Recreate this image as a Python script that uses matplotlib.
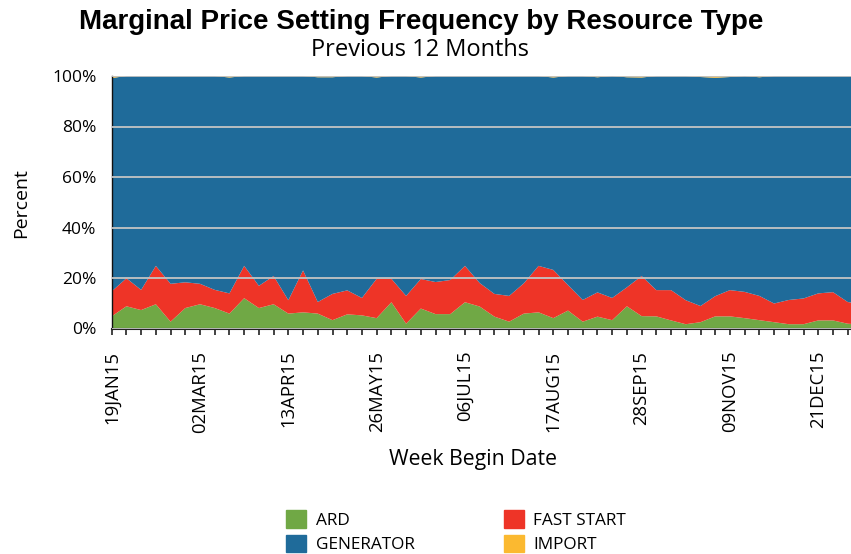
import matplotlib
matplotlib.use("Agg")
import matplotlib.pyplot as plt
import matplotlib.patches as mpatches
import numpy as np

# ---- data (percent) ----
n_weeks = 52
tick_labels = ["19JAN15", "02MAR15", "13APR15", "26MAY15", "06JUL15",
               "17AUG15", "28SEP15", "09NOV15", "21DEC15"]

ard = [4.8, 8.8, 7.3, 9.6, 2.7, 8.1, 9.6, 8.1, 5.9, 12.0,
       8.1, 9.6, 5.9, 6.4, 5.9, 3.3, 5.6, 5.2, 4.1, 10.4,
       1.9, 7.9, 5.7, 5.7, 10.4, 8.7, 4.7, 2.7, 5.9, 6.4,
       4.1, 7.1, 2.7, 4.7, 3.3, 8.8, 4.9, 4.8, 3.2, 1.7,
       2.5, 4.8, 4.8, 4.1, 3.3, 2.5, 1.7, 1.7, 3.2, 3.2,
       1.9, 1.5]
ard_plus_fast = [14.7, 19.9, 15.3, 24.8, 17.7, 18.3, 17.7, 15.3, 13.9, 24.8,
                 16.9, 20.8, 11.2, 23.0, 10.5, 13.7, 15.1, 12.1, 19.7, 19.7,
                 12.9, 19.6, 18.4, 19.2, 24.8, 18.0, 13.7, 12.9, 17.9, 24.8,
                 23.2, 17.2, 11.3, 14.3, 12.1, 16.3, 20.8, 15.2, 15.2, 11.2,
                 8.9, 12.8, 15.2, 14.5, 12.9, 9.9, 11.3, 11.9, 13.9, 14.4,
                 10.5, 9.5]
fast_start = [round(t - a, 1) for t, a in zip(ard_plus_fast, ard)]
imports = [0.8, 0, 0, 0, 0, 0, 0, 0, 0.6, 0,
           0, 0, 0, 0, 0.5, 0.5, 0, 0, 0.6, 0,
           0, 0.6, 0, 0, 0, 0, 0, 0, 0, 0,
           0.6, 0, 0, 0.5, 0, 0.5, 0.6, 0, 0, 0,
           0.4, 0.7, 0.4, 0, 0.5, 0, 0, 0, 0, 0,
           0, 0]
generator = [round(100 - a - f - m, 1) for a, f, m in zip(ard, fast_start, imports)]

series_names = ["ARD", "FAST START", "GENERATOR", "IMPORT"]
colors = ["#70a845", "#ee3427", "#1f6b9a", "#fbb930"]

# ---- figure ----
FONT = ["Open Sans", "DejaVu Sans"]
plt.rcParams["font.family"] = FONT

W, H = 851, 554
fig = plt.figure(figsize=(W / 100, H / 100), dpi=100)
left_px, right_px, top_px, bot_px = 111.7, 851, 76, 328.5
ax = fig.add_axes([left_px / W, 1 - bot_px / H, (right_px - left_px) / W, (bot_px - top_px) / H])

x = np.arange(n_weeks)
ax.stackplot(x, ard, fast_start, generator, imports, colors=colors, linewidth=0)

ax.set_xlim(0, (right_px - left_px) / 14.72)
ax.set_ylim(0, 100)

ax.set_yticks([0, 20, 40, 60, 80, 100])
ax.set_yticklabels(["0%", "20%", "40%", "60%", "80%", "100%"], fontsize=12.5)
ax.tick_params(axis="y", length=0, pad=11)
ax.yaxis.grid(True, color="#c4c4c4", linewidth=1.3)
ax.set_axisbelow(False)

n_ticks = 51
ax.set_xticks(x[:n_ticks])
xt = [""] * n_ticks
for k, lab in enumerate(tick_labels):
    xt[k * 6] = lab
ax.set_xticklabels(xt, rotation=90, fontsize=13.3)
ax.tick_params(axis="x", length=4, width=1.2, color="#222222", pad=12)

for s in ["top", "right"]:
    ax.spines[s].set_visible(False)
ax.spines["left"].set_color("#111111")
ax.spines["bottom"].set_color("#222222")
ax.spines["left"].set_linewidth(1.0)
ax.spines["bottom"].set_linewidth(1.5)

fig.text(21 / W, 1 - 203 / H, "Percent", fontsize=14, rotation=90, ha="center", va="center")
fig.text(473 / W, 1 - 460 / H, "Week Begin Date", fontsize=15.3, ha="center", va="center")

fig.text(421 / W, 1 - 22 / H, "Marginal Price Setting Frequency by Resource Type",
         fontsize=20, fontweight="bold", family="Liberation Sans", ha="center", va="center")
fig.text(420 / W, 1 - 50 / H, "Previous 12 Months", fontsize=17, ha="center", va="center")

handles = [mpatches.Patch(color=colors[0], label=series_names[0]),
           mpatches.Patch(color=colors[2], label=series_names[2]),
           mpatches.Patch(color=colors[1], label=series_names[1]),
           mpatches.Patch(color=colors[3], label=series_names[3])]
fig.legend(handles=handles, ncol=2, loc="upper left",
           bbox_to_anchor=(283 / W, 1 - 507 / H), frameon=False, fontsize=12.4,
           handlelength=1.15, handleheight=1.15, handletextpad=0.55,
           columnspacing=5.2, labelspacing=0.35, borderaxespad=0, borderpad=0.2)

fig.savefig("out.png", dpi=100)
